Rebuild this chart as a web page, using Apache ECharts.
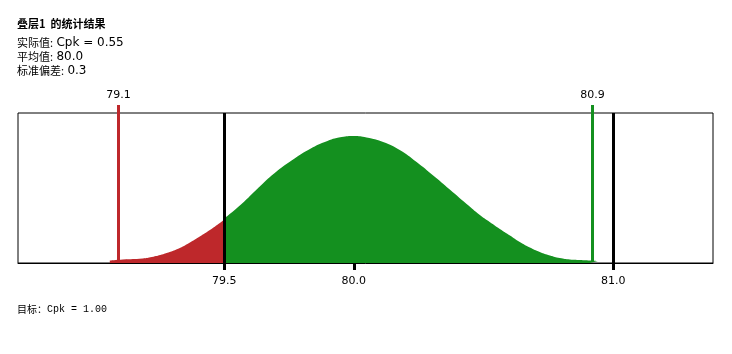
<!DOCTYPE html>
<html><head><meta charset="utf-8">
<script src="https://cdn.jsdelivr.net/npm/echarts@6/dist/echarts.min.js"></script>
<style>html,body{margin:0;padding:0;background:#fff}#c{width:732px;height:354px}</style>
</head><body><div id="c"></div>
<script>
// Curve below target lower limit (red) : x values and heights
const lowX = [79.059, 79.109, 79.186, 79.221, 79.260, 79.290, 79.329, 79.368, 79.406, 79.445, 79.491, 79.5];
const lowH = [2.5, 3.5, 4.5, 6, 8.5, 11, 15, 20.5, 26.5, 33, 41.5, 43.5];
// Curve inside/above (green)
const midX = [79.5, 79.567, 79.631, 79.695, 79.760, 79.824, 79.888, 79.953, 80.0, 80.049, 80.113, 80.177, 80.242, 80.306, 80.370, 80.435, 80.486, 80.524, 80.563, 80.602, 80.640, 80.679, 80.717, 80.756, 80.794, 80.833, 80.872, 80.910, 80.941];
const midH = [44.5, 59, 75, 90, 102.5, 113, 121, 126, 127, 125.5, 121, 113, 101, 87.5, 73.5, 59, 48, 41, 34, 27.5, 21, 15.5, 11, 7.5, 5, 3.5, 3, 2.5, 2];
// Measured limits (red / green markers)
const specValues = [79.09, 80.92];
const specLabels = ['79.1', '80.9'];
const specColors = ['#be282b', '#14901f'];
// Target limits (black lines)
const targetValues = [79.5, 81.0];
// Axis ticks
const tickValues = [79.5, 80.0, 81.0];
const tickLabels = ['79.5', '80.0', '81.0'];
const xMin = 78.705, xMax = 81.385, yMax = 150;

const chart = echarts.init(document.getElementById('c'), null, {renderer: 'canvas'});
const textCJK = '"Noto Sans CJK SC", sans-serif';
chart.setOption({
  animation: false,
  grid: {left: 18, top: 113, width: 695, height: 150, show: true, borderColor: '#000', borderWidth: 1, backgroundColor: 'transparent'},
  xAxis: {
    type: 'value', min: xMin, max: xMax,
    axisLine: {show: true, lineStyle: {color: '#000', width: 1}},
    splitLine: {show: false},
    axisTick: {show: true, customValues: tickValues, length: 7, lineStyle: {color: '#000', width: 3}},
    axisLabel: {show: true, customValues: tickValues, margin: 13, color: '#000', fontSize: 11, fontFamily: 'DejaVu Sans',
      formatter: v => { const i = tickValues.findIndex(t => Math.abs(t - v) < 1e-9); return i >= 0 ? tickLabels[i] : ''; }}
  },
  yAxis: {type: 'value', min: 0, max: yMax, show: false, splitLine: {show: false}},
  series: [
    {type: 'line', data: lowX.map((x, i) => [x, lowH[i]]), symbol: 'none', smooth: 0.5,
      lineStyle: {width: 0}, areaStyle: {color: '#be282b', opacity: 1}, z: 2},
    {type: 'line', data: midX.map((x, i) => [x, midH[i]]), symbol: 'none', smooth: 0.5,
      lineStyle: {width: 0}, areaStyle: {color: '#14901f', opacity: 1}, z: 2,
      markLine: {silent: true, symbol: 'none', label: {show: false},
        lineStyle: {color: '#000', width: 3, type: 'solid'},
        data: targetValues.map(v => ({xAxis: v}))}},
    {type: 'custom', z: 4, clip: false, encode: {x: 0, y: 1},
      data: specValues.map((v, i) => [v, i]),
      renderItem: (params, api) => {
        const v = api.value(0), idx = api.value(1);
        const p0 = api.coord([v, 0]);
        const p1 = api.coord([v, yMax]);
        const top = p1[1] - 8;
        const x = Math.round(p0[0]) + 0.5;
        return {type: 'group', children: [
          {type: 'line', shape: {x1: x, y1: p0[1] - 1, x2: x, y2: top}, style: {stroke: specColors[idx], lineWidth: 3}},
          {type: 'text', style: {text: specLabels[idx], x: x, y: top - 4, align: 'center', verticalAlign: 'bottom',
            font: '11px "DejaVu Sans"', fill: '#000'}}
        ]};
      }}
  ],
  graphic: [
    {type: 'text', left: 17, top: 18, style: {text: '叠层1  的统计结果', font: 'bold 11px ' + textCJK, fill: '#000'}},
    {type: 'text', left: 17, top: 37, style: {
      text: '{a|实际值:} {b|Cpk = 0.55}\n{a|平均值:} {b|80.0}\n{a|标准偏差:} {b|0.3}',
      rich: {a: {font: '11px ' + textCJK, fill: '#000', lineHeight: 14}, b: {font: '12px "DejaVu Sans"', fill: '#000', lineHeight: 14}}}},
    {type: 'text', left: 17, top: 304, style: {
      text: '{a|目标：}{b|Cpk = 1.00}',
      rich: {a: {font: '10px ' + textCJK, fill: '#000'}, b: {font: '10px "Liberation Mono"', fill: '#000'}}}}
  ]
});
</script></body></html>
